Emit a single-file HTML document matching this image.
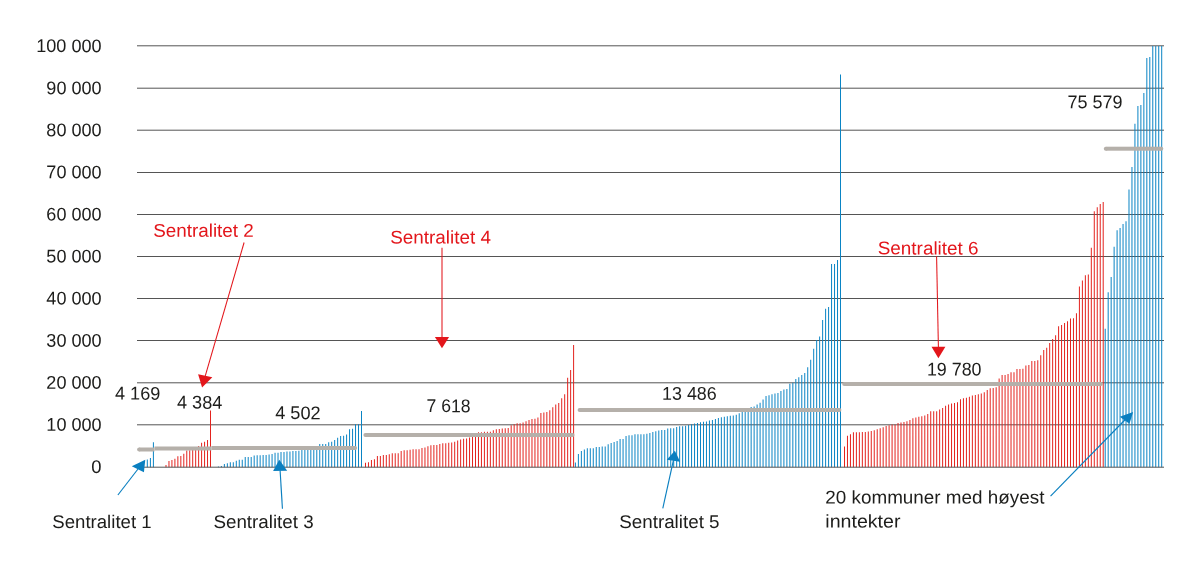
<!DOCTYPE html>
<html><head><meta charset="utf-8"><style>
html,body{margin:0;padding:0;background:#fff;width:1200px;height:569px;overflow:hidden}
svg{display:block;will-change:transform}
text{font-family:"Liberation Sans", sans-serif;}
</style></head><body>
<svg width="1200" height="569" viewBox="0 0 1200 569">
<rect width="1200" height="569" fill="#fff"/>
<path d="M137 45.80H1164M137 88.20H1164M137 130.20H1164M137 172.50H1164M137 214.50H1164M137 256.50H1164M137 298.50H1164M137 340.50H1164M137 382.80H1164M137 424.80H1164" stroke="#555" stroke-width="1" fill="none"/>
<path d="M146.80 459.50h1.0v7.70h-1.0zM149.90 458.00h1.0v9.20h-1.0zM152.90 442.20h1.0v25.00h-1.0zM217.90 466.40h1.0v0.80h-1.0zM220.88 466.10h1.0v1.10h-1.0zM223.86 464.00h1.0v3.20h-1.0zM226.84 463.20h1.0v4.00h-1.0zM229.83 462.20h1.0v5.00h-1.0zM232.81 462.20h1.0v5.00h-1.0zM235.79 460.80h1.0v6.40h-1.0zM238.77 459.70h1.0v7.50h-1.0zM241.75 459.70h1.0v7.50h-1.0zM244.73 456.90h1.0v10.30h-1.0zM247.71 456.90h1.0v10.30h-1.0zM250.69 456.90h1.0v10.30h-1.0zM253.68 455.50h1.0v11.70h-1.0zM256.66 455.30h1.0v11.90h-1.0zM259.64 455.30h1.0v11.90h-1.0zM262.62 455.10h1.0v12.10h-1.0zM265.60 455.10h1.0v12.10h-1.0zM268.58 454.50h1.0v12.70h-1.0zM271.56 454.00h1.0v13.20h-1.0zM274.54 452.70h1.0v14.50h-1.0zM277.52 452.70h1.0v14.50h-1.0zM280.51 452.10h1.0v15.10h-1.0zM283.49 451.90h1.0v15.30h-1.0zM286.47 451.40h1.0v15.80h-1.0zM289.45 451.40h1.0v15.80h-1.0zM292.43 451.10h1.0v16.10h-1.0zM295.41 451.10h1.0v16.10h-1.0zM298.39 450.70h1.0v16.50h-1.0zM301.38 450.00h1.0v17.20h-1.0zM304.36 449.50h1.0v17.70h-1.0zM307.34 449.00h1.0v18.20h-1.0zM310.32 448.50h1.0v18.70h-1.0zM313.30 447.50h1.0v19.70h-1.0zM316.28 447.00h1.0v20.20h-1.0zM319.26 444.10h1.0v23.10h-1.0zM322.24 444.10h1.0v23.10h-1.0zM325.23 443.90h1.0v23.30h-1.0zM328.21 442.20h1.0v25.00h-1.0zM331.19 441.80h1.0v25.40h-1.0zM334.17 440.00h1.0v27.20h-1.0zM337.15 437.80h1.0v29.40h-1.0zM340.13 435.90h1.0v31.30h-1.0zM343.11 435.70h1.0v31.50h-1.0zM346.09 434.50h1.0v32.70h-1.0zM349.07 429.30h1.0v37.90h-1.0zM352.06 428.70h1.0v38.50h-1.0zM355.04 424.20h1.0v43.00h-1.0zM358.02 424.20h1.0v43.00h-1.0zM361.00 411.10h1.0v56.10h-1.0zM574.90 462.50h1.0v4.70h-1.0zM577.88 453.90h1.0v13.30h-1.0zM580.86 451.10h1.0v16.10h-1.0zM583.84 449.50h1.0v17.70h-1.0zM586.81 448.20h1.0v19.00h-1.0zM589.79 448.20h1.0v19.00h-1.0zM592.77 448.20h1.0v19.00h-1.0zM595.75 447.10h1.0v20.10h-1.0zM598.73 447.10h1.0v20.10h-1.0zM601.71 446.50h1.0v20.70h-1.0zM604.69 446.50h1.0v20.70h-1.0zM607.67 444.30h1.0v22.90h-1.0zM610.64 443.10h1.0v24.10h-1.0zM613.62 442.10h1.0v25.10h-1.0zM616.60 441.00h1.0v26.20h-1.0zM619.58 439.00h1.0v28.20h-1.0zM622.56 439.00h1.0v28.20h-1.0zM625.54 435.90h1.0v31.30h-1.0zM628.52 435.30h1.0v31.90h-1.0zM631.49 435.30h1.0v31.90h-1.0zM634.47 434.20h1.0v33.00h-1.0zM637.45 434.20h1.0v33.00h-1.0zM640.43 434.20h1.0v33.00h-1.0zM643.41 434.20h1.0v33.00h-1.0zM646.39 433.80h1.0v33.40h-1.0zM649.37 433.00h1.0v34.20h-1.0zM652.34 432.10h1.0v35.10h-1.0zM655.32 431.20h1.0v36.00h-1.0zM658.30 430.40h1.0v36.80h-1.0zM661.28 430.00h1.0v37.20h-1.0zM664.26 430.00h1.0v37.20h-1.0zM667.24 428.40h1.0v38.80h-1.0zM670.22 428.20h1.0v39.00h-1.0zM673.20 428.20h1.0v39.00h-1.0zM676.17 426.90h1.0v40.30h-1.0zM679.15 426.30h1.0v40.90h-1.0zM682.13 426.30h1.0v40.90h-1.0zM685.11 425.70h1.0v41.50h-1.0zM688.09 425.10h1.0v42.10h-1.0zM691.07 424.20h1.0v43.00h-1.0zM694.05 423.50h1.0v43.70h-1.0zM697.02 423.00h1.0v44.20h-1.0zM700.00 422.20h1.0v45.00h-1.0zM702.98 421.80h1.0v45.40h-1.0zM705.96 421.40h1.0v45.80h-1.0zM708.94 420.50h1.0v46.70h-1.0zM711.92 419.90h1.0v47.30h-1.0zM714.90 418.90h1.0v48.30h-1.0zM717.88 418.10h1.0v49.10h-1.0zM720.85 417.30h1.0v49.90h-1.0zM723.83 416.80h1.0v50.40h-1.0zM726.81 416.20h1.0v51.00h-1.0zM729.79 415.80h1.0v51.40h-1.0zM732.77 415.40h1.0v51.80h-1.0zM735.75 414.80h1.0v52.40h-1.0zM738.73 413.20h1.0v54.00h-1.0zM741.70 411.50h1.0v55.70h-1.0zM744.68 411.00h1.0v56.20h-1.0zM747.66 410.50h1.0v56.70h-1.0zM750.64 407.10h1.0v60.10h-1.0zM753.62 406.50h1.0v60.70h-1.0zM756.60 404.60h1.0v62.60h-1.0zM759.58 402.80h1.0v64.40h-1.0zM762.56 399.40h1.0v67.80h-1.0zM765.53 395.90h1.0v71.30h-1.0zM768.51 395.30h1.0v71.90h-1.0zM771.49 394.20h1.0v73.00h-1.0zM774.47 393.50h1.0v73.70h-1.0zM777.45 393.00h1.0v74.20h-1.0zM780.43 391.00h1.0v76.20h-1.0zM783.41 389.50h1.0v77.70h-1.0zM786.38 388.90h1.0v78.30h-1.0zM789.36 383.80h1.0v83.40h-1.0zM792.34 382.80h1.0v84.40h-1.0zM795.32 379.10h1.0v88.10h-1.0zM798.30 377.20h1.0v90.00h-1.0zM801.28 374.90h1.0v92.30h-1.0zM804.26 373.10h1.0v94.10h-1.0zM807.23 367.30h1.0v99.90h-1.0zM810.21 359.80h1.0v107.40h-1.0zM813.19 348.80h1.0v118.40h-1.0zM816.17 339.90h1.0v127.30h-1.0zM819.15 336.40h1.0v130.80h-1.0zM822.13 320.10h1.0v147.10h-1.0zM825.11 308.70h1.0v158.50h-1.0zM828.09 307.10h1.0v160.10h-1.0zM831.06 264.10h1.0v203.10h-1.0zM834.04 264.10h1.0v203.10h-1.0zM837.02 260.10h1.0v207.10h-1.0zM840.00 74.40h1.0v392.80h-1.0zM1104.70 328.70h1.0v138.50h-1.0zM1107.67 292.30h1.0v174.90h-1.0zM1110.65 277.00h1.0v190.20h-1.0zM1113.62 246.80h1.0v220.40h-1.0zM1116.59 230.30h1.0v236.90h-1.0zM1119.57 228.00h1.0v239.20h-1.0zM1122.54 224.00h1.0v243.20h-1.0zM1125.52 221.20h1.0v246.00h-1.0zM1128.49 189.60h1.0v277.60h-1.0zM1131.46 167.00h1.0v300.20h-1.0zM1134.44 123.80h1.0v343.40h-1.0zM1137.41 106.10h1.0v361.10h-1.0zM1140.38 104.90h1.0v362.30h-1.0zM1143.36 93.00h1.0v374.20h-1.0zM1146.33 57.90h1.0v409.30h-1.0zM1149.31 57.10h1.0v410.10h-1.0zM1152.28 45.90h1.0v421.30h-1.0zM1155.25 45.90h1.0v421.30h-1.0zM1158.23 45.90h1.0v421.30h-1.0zM1161.20 45.90h1.0v421.30h-1.0z" fill="#0a84c4"/>
<path d="M165.50 464.90h1.0v2.30h-1.0zM168.47 460.90h1.0v6.30h-1.0zM171.43 460.00h1.0v7.20h-1.0zM174.40 458.80h1.0v8.40h-1.0zM177.37 456.30h1.0v10.90h-1.0zM180.33 456.00h1.0v11.20h-1.0zM183.30 453.75h1.0v13.45h-1.0zM186.27 450.50h1.0v16.70h-1.0zM189.23 450.20h1.0v17.00h-1.0zM192.20 449.80h1.0v17.40h-1.0zM195.17 449.50h1.0v17.70h-1.0zM198.13 446.10h1.0v21.10h-1.0zM201.10 442.80h1.0v24.40h-1.0zM204.07 441.80h1.0v25.40h-1.0zM207.03 440.00h1.0v27.20h-1.0zM210.00 410.50h1.0v56.70h-1.0zM365.00 462.80h1.0v4.40h-1.0zM367.97 462.20h1.0v5.00h-1.0zM370.95 459.90h1.0v7.30h-1.0zM373.92 459.30h1.0v7.90h-1.0zM376.89 456.00h1.0v11.20h-1.0zM379.86 456.00h1.0v11.20h-1.0zM382.84 455.10h1.0v12.10h-1.0zM385.81 455.10h1.0v12.10h-1.0zM388.78 454.20h1.0v13.00h-1.0zM391.76 453.20h1.0v14.00h-1.0zM394.73 453.20h1.0v14.00h-1.0zM397.70 453.20h1.0v14.00h-1.0zM400.67 451.10h1.0v16.10h-1.0zM403.65 450.20h1.0v17.00h-1.0zM406.62 450.20h1.0v17.00h-1.0zM409.59 449.80h1.0v17.40h-1.0zM412.57 449.20h1.0v18.00h-1.0zM415.54 449.20h1.0v18.00h-1.0zM418.51 449.20h1.0v18.00h-1.0zM421.48 448.00h1.0v19.20h-1.0zM424.46 447.40h1.0v19.80h-1.0zM427.43 446.20h1.0v21.00h-1.0zM430.40 445.30h1.0v21.90h-1.0zM433.38 444.90h1.0v22.30h-1.0zM436.35 444.90h1.0v22.30h-1.0zM439.32 444.10h1.0v23.10h-1.0zM442.29 443.30h1.0v23.90h-1.0zM445.27 443.30h1.0v23.90h-1.0zM448.24 442.80h1.0v24.40h-1.0zM451.21 442.50h1.0v24.70h-1.0zM454.19 441.80h1.0v25.40h-1.0zM457.16 440.60h1.0v26.60h-1.0zM460.13 439.40h1.0v27.80h-1.0zM463.10 438.80h1.0v28.40h-1.0zM466.08 438.40h1.0v28.80h-1.0zM469.05 437.50h1.0v29.70h-1.0zM472.02 436.00h1.0v31.20h-1.0zM475.00 435.00h1.0v32.20h-1.0zM477.97 432.20h1.0v35.00h-1.0zM480.94 432.20h1.0v35.00h-1.0zM483.91 431.80h1.0v35.40h-1.0zM486.89 431.80h1.0v35.40h-1.0zM489.86 431.80h1.0v35.40h-1.0zM492.83 430.20h1.0v37.00h-1.0zM495.81 429.30h1.0v37.90h-1.0zM498.78 428.90h1.0v38.30h-1.0zM501.75 428.60h1.0v38.60h-1.0zM504.72 428.30h1.0v38.90h-1.0zM507.70 428.10h1.0v39.10h-1.0zM510.67 425.30h1.0v41.90h-1.0zM513.64 424.30h1.0v42.90h-1.0zM516.62 423.30h1.0v43.90h-1.0zM519.59 423.30h1.0v43.90h-1.0zM522.56 422.50h1.0v44.70h-1.0zM525.53 421.20h1.0v46.00h-1.0zM528.51 420.00h1.0v47.20h-1.0zM531.48 419.10h1.0v48.10h-1.0zM534.45 418.80h1.0v48.40h-1.0zM537.43 417.50h1.0v49.70h-1.0zM540.40 413.00h1.0v54.20h-1.0zM543.37 412.60h1.0v54.60h-1.0zM546.34 412.00h1.0v55.20h-1.0zM549.32 410.20h1.0v57.00h-1.0zM552.29 407.30h1.0v59.90h-1.0zM555.26 404.40h1.0v62.80h-1.0zM558.24 403.10h1.0v64.10h-1.0zM561.21 398.20h1.0v69.00h-1.0zM564.18 394.20h1.0v73.00h-1.0zM567.15 377.70h1.0v89.50h-1.0zM570.13 370.00h1.0v97.20h-1.0zM573.10 345.00h1.0v122.20h-1.0zM844.00 446.50h1.0v20.70h-1.0zM846.97 435.70h1.0v31.50h-1.0zM849.95 434.20h1.0v33.00h-1.0zM852.92 432.20h1.0v35.00h-1.0zM855.89 432.20h1.0v35.00h-1.0zM858.87 432.20h1.0v35.00h-1.0zM861.84 432.00h1.0v35.20h-1.0zM864.81 432.00h1.0v35.20h-1.0zM867.79 431.60h1.0v35.60h-1.0zM870.76 431.00h1.0v36.20h-1.0zM873.74 430.20h1.0v37.00h-1.0zM876.71 429.20h1.0v38.00h-1.0zM879.68 428.30h1.0v38.90h-1.0zM882.66 427.30h1.0v39.90h-1.0zM885.63 426.10h1.0v41.10h-1.0zM888.60 425.20h1.0v42.00h-1.0zM891.58 424.60h1.0v42.60h-1.0zM894.55 424.40h1.0v42.80h-1.0zM897.52 423.10h1.0v44.10h-1.0zM900.50 422.40h1.0v44.80h-1.0zM903.47 421.90h1.0v45.30h-1.0zM906.44 421.20h1.0v46.00h-1.0zM909.42 419.90h1.0v47.30h-1.0zM912.39 418.20h1.0v49.00h-1.0zM915.37 417.50h1.0v49.70h-1.0zM918.34 416.80h1.0v50.40h-1.0zM921.31 416.20h1.0v51.00h-1.0zM924.29 415.50h1.0v51.70h-1.0zM927.26 414.10h1.0v53.10h-1.0zM930.23 411.20h1.0v56.00h-1.0zM933.21 411.20h1.0v56.00h-1.0zM936.18 411.20h1.0v56.00h-1.0zM939.15 409.40h1.0v57.80h-1.0zM942.13 407.90h1.0v59.30h-1.0zM945.10 405.70h1.0v61.50h-1.0zM948.07 404.50h1.0v62.70h-1.0zM951.05 403.50h1.0v63.70h-1.0zM954.02 403.00h1.0v64.20h-1.0zM957.00 402.20h1.0v65.00h-1.0zM959.97 399.20h1.0v68.00h-1.0zM962.94 398.30h1.0v68.90h-1.0zM965.92 397.70h1.0v69.50h-1.0zM968.89 396.80h1.0v70.40h-1.0zM971.86 395.50h1.0v71.70h-1.0zM974.84 395.00h1.0v72.20h-1.0zM977.81 394.20h1.0v73.00h-1.0zM980.78 393.40h1.0v73.80h-1.0zM983.76 392.20h1.0v75.00h-1.0zM986.73 389.90h1.0v77.30h-1.0zM989.70 388.20h1.0v79.00h-1.0zM992.68 387.90h1.0v79.30h-1.0zM995.65 387.20h1.0v80.00h-1.0zM998.63 378.40h1.0v88.80h-1.0zM1001.60 375.10h1.0v92.10h-1.0zM1004.57 375.10h1.0v92.10h-1.0zM1007.55 374.00h1.0v93.20h-1.0zM1010.52 372.30h1.0v94.90h-1.0zM1013.49 372.30h1.0v94.90h-1.0zM1016.47 369.00h1.0v98.20h-1.0zM1019.44 369.00h1.0v98.20h-1.0zM1022.41 368.80h1.0v98.40h-1.0zM1025.39 365.50h1.0v101.70h-1.0zM1028.36 365.10h1.0v102.10h-1.0zM1031.33 361.10h1.0v106.10h-1.0zM1034.31 361.10h1.0v106.10h-1.0zM1037.28 360.20h1.0v107.00h-1.0zM1040.26 355.20h1.0v112.00h-1.0zM1043.23 350.10h1.0v117.10h-1.0zM1046.20 347.70h1.0v119.50h-1.0zM1049.18 343.10h1.0v124.10h-1.0zM1052.15 339.10h1.0v128.10h-1.0zM1055.12 335.20h1.0v132.00h-1.0zM1058.10 326.30h1.0v140.90h-1.0zM1061.07 324.90h1.0v142.30h-1.0zM1064.04 322.90h1.0v144.30h-1.0zM1067.02 321.30h1.0v145.90h-1.0zM1069.99 318.50h1.0v148.70h-1.0zM1072.96 318.20h1.0v149.00h-1.0zM1075.94 313.30h1.0v153.90h-1.0zM1078.91 286.60h1.0v180.60h-1.0zM1081.89 280.50h1.0v186.70h-1.0zM1084.86 275.30h1.0v191.90h-1.0zM1087.83 274.60h1.0v192.60h-1.0zM1090.81 247.80h1.0v219.40h-1.0zM1093.78 211.20h1.0v256.00h-1.0zM1096.75 207.30h1.0v259.90h-1.0zM1099.73 204.10h1.0v263.10h-1.0zM1102.70 202.10h1.0v265.10h-1.0z" fill="#e3231e"/>
<path d="M137 467.20H1164" stroke="#555" stroke-width="1" fill="none"/>
<rect x="139.1" y="447.5" width="15.40" height="4" fill="#b5b0aa"/><circle cx="139.1" cy="449.5" r="2" fill="#b5b0aa"/><rect x="154.5" y="446.5" width="57.00" height="4" fill="#b5b0aa"/><rect x="211.5" y="446.0" width="143.60" height="4" fill="#b5b0aa"/><circle cx="355.1" cy="448.0" r="2" fill="#b5b0aa"/><rect x="365.4" y="433.0" width="207.10" height="4" fill="#b5b0aa"/><circle cx="365.4" cy="435.0" r="2" fill="#b5b0aa"/><circle cx="572.5" cy="435.0" r="2" fill="#b5b0aa"/><rect x="579.6" y="408.0" width="259.80" height="4" fill="#b5b0aa"/><circle cx="579.6" cy="410.0" r="2" fill="#b5b0aa"/><circle cx="839.4" cy="410.0" r="2" fill="#b5b0aa"/><rect x="844.2" y="382.0" width="256.80" height="4" fill="#b5b0aa"/><circle cx="844.2" cy="384.0" r="2" fill="#b5b0aa"/><circle cx="1101.0" cy="384.0" r="2" fill="#b5b0aa"/><rect x="1105.8" y="146.7" width="55.50" height="4" fill="#b5b0aa"/><circle cx="1105.8" cy="148.7" r="2" fill="#b5b0aa"/><circle cx="1161.3" cy="148.7" r="2" fill="#b5b0aa"/>
<path d="M244.09 242.52L205.20 376.20" stroke="#e3161b" stroke-width="1.05" fill="none"/><path d="M198.11 374.30L212.33 377.17L202.08 387.38z" fill="#e3161b"/>
<path d="M442.00 247.70L442.00 337.60" stroke="#e3161b" stroke-width="1.05" fill="none"/><path d="M434.90 336.99L449.10 336.99L442.00 348.15z" fill="#e3161b"/>
<path d="M936.59 256.20L938.40 347.30" stroke="#e3161b" stroke-width="1.05" fill="none"/><path d="M931.51 346.68L945.39 346.68L938.40 358.15z" fill="#e3161b"/>
<path d="M117.89 495.00L138.00 469.00" stroke="#0a7fc0" stroke-width="1.15" fill="none"/><path d="M131.80 466.21L145.28 459.65L143.93 472.19z" fill="#0a7fc0"/>
<path d="M282.43 508.80L280.10 470.40" stroke="#0a7fc0" stroke-width="1.15" fill="none"/><path d="M273.11 470.92L287.20 470.70L279.26 459.75z" fill="#0a7fc0"/>
<path d="M662.79 508.49L673.40 460.40" stroke="#0a7fc0" stroke-width="1.15" fill="none"/><path d="M666.77 459.84L680.17 461.65L674.86 450.75z" fill="#0a7fc0"/>
<path d="M1050.55 496.16L1124.80 420.00" stroke="#0a7fc0" stroke-width="1.15" fill="none"/><path d="M1119.80 416.76L1133.12 411.89L1129.44 423.63z" fill="#0a7fc0"/>
<text x="101.5" y="52.13" fill="#1d1d1b" font-size="18.4" text-anchor="end" textLength="65.25" lengthAdjust="spacingAndGlyphs" transform="rotate(0.03 68.9 46.1)">100 000</text>
<text x="101.5" y="94.21" fill="#1d1d1b" font-size="18.4" text-anchor="end" textLength="55.13" lengthAdjust="spacingAndGlyphs" transform="rotate(0.03 73.9 88.2)">90 000</text>
<text x="101.5" y="136.3" fill="#1d1d1b" font-size="18.4" text-anchor="end" textLength="55.13" lengthAdjust="spacingAndGlyphs" transform="rotate(0.03 73.9 130.3)">80 000</text>
<text x="101.5" y="178.39" fill="#1d1d1b" font-size="18.4" text-anchor="end" textLength="55.13" lengthAdjust="spacingAndGlyphs" transform="rotate(0.03 73.9 172.4)">70 000</text>
<text x="101.5" y="220.47" fill="#1d1d1b" font-size="18.4" text-anchor="end" textLength="55.13" lengthAdjust="spacingAndGlyphs" transform="rotate(0.03 73.9 214.5)">60 000</text>
<text x="101.5" y="262.56" fill="#1d1d1b" font-size="18.4" text-anchor="end" textLength="55.13" lengthAdjust="spacingAndGlyphs" transform="rotate(0.03 73.9 256.6)">50 000</text>
<text x="101.5" y="304.64" fill="#1d1d1b" font-size="18.4" text-anchor="end" textLength="55.13" lengthAdjust="spacingAndGlyphs" transform="rotate(0.03 73.9 298.6)">40 000</text>
<text x="101.5" y="346.73" fill="#1d1d1b" font-size="18.4" text-anchor="end" textLength="55.13" lengthAdjust="spacingAndGlyphs" transform="rotate(0.03 73.9 340.7)">30 000</text>
<text x="101.5" y="388.81" fill="#1d1d1b" font-size="18.4" text-anchor="end" textLength="55.13" lengthAdjust="spacingAndGlyphs" transform="rotate(0.03 73.9 382.8)">20 000</text>
<text x="101.5" y="430.89" fill="#1d1d1b" font-size="18.4" text-anchor="end" textLength="55.13" lengthAdjust="spacingAndGlyphs" transform="rotate(0.03 73.9 424.9)">10 000</text>
<text x="101.5" y="472.98" fill="#1d1d1b" font-size="18.4" text-anchor="end" transform="rotate(0.03 76.5 467.0)">0</text>
<text x="153.2" y="236.7" fill="#e3161b" font-size="18.4" text-anchor="start" textLength="100.6" lengthAdjust="spacingAndGlyphs" transform="rotate(0.03 203.5 230.7)">Sentralitet 2</text>
<text x="390.2" y="243.5" fill="#e3161b" font-size="18.4" text-anchor="start" textLength="100.75" lengthAdjust="spacingAndGlyphs" transform="rotate(0.03 440.6 237.5)">Sentralitet 4</text>
<text x="877.7" y="254.4" fill="#e3161b" font-size="18.4" text-anchor="start" textLength="100.95" lengthAdjust="spacingAndGlyphs" transform="rotate(0.03 928.2 248.4)">Sentralitet 6</text>
<text x="115.0" y="399.63" fill="#1d1d1b" font-size="18.4" text-anchor="start" textLength="45.33" lengthAdjust="spacingAndGlyphs" transform="rotate(0.03 137.7 393.6)">4 169</text>
<text x="177.0" y="408.63" fill="#1d1d1b" font-size="18.4" text-anchor="start" textLength="45.33" lengthAdjust="spacingAndGlyphs" transform="rotate(0.03 199.7 402.6)">4 384</text>
<text x="275.2" y="419.13" fill="#1d1d1b" font-size="18.4" text-anchor="start" textLength="45.4" lengthAdjust="spacingAndGlyphs" transform="rotate(0.03 297.9 413.1)">4 502</text>
<text x="426.5" y="412.13" fill="#1d1d1b" font-size="18.4" text-anchor="start" textLength="44.03" lengthAdjust="spacingAndGlyphs" transform="rotate(0.03 448.5 406.1)">7 618</text>
<text x="662.05" y="399.83" fill="#1d1d1b" font-size="18.4" text-anchor="start" textLength="54.7" lengthAdjust="spacingAndGlyphs" transform="rotate(0.03 689.4 393.8)">13 486</text>
<text x="926.9" y="375.43" fill="#1d1d1b" font-size="18.4" text-anchor="start" textLength="54.6" lengthAdjust="spacingAndGlyphs" transform="rotate(0.03 954.2 369.4)">19 780</text>
<text x="1067.5" y="108.23" fill="#1d1d1b" font-size="18.4" text-anchor="start" textLength="55.0" lengthAdjust="spacingAndGlyphs" transform="rotate(0.03 1095.0 102.2)">75 579</text>
<text x="52.3" y="528.0" fill="#1d1d1b" font-size="18.4" text-anchor="start" textLength="99.3" lengthAdjust="spacingAndGlyphs" transform="rotate(0.03 101.9 522.0)">Sentralitet 1</text>
<text x="213.4" y="528.0" fill="#1d1d1b" font-size="18.4" text-anchor="start" textLength="100.3" lengthAdjust="spacingAndGlyphs" transform="rotate(0.03 263.6 522.0)">Sentralitet 3</text>
<text x="619.2" y="528.0" fill="#1d1d1b" font-size="18.4" text-anchor="start" textLength="100.4" lengthAdjust="spacingAndGlyphs" transform="rotate(0.03 669.4 522.0)">Sentralitet 5</text>
<text x="825.3" y="503.5" fill="#1d1d1b" font-size="18.4" text-anchor="start" textLength="219.1" lengthAdjust="spacingAndGlyphs" transform="rotate(0.03 934.8 497.5)">20 kommuner med høyest</text>
<text x="825.3" y="527.5" fill="#1d1d1b" font-size="18.4" text-anchor="start" textLength="75.2" lengthAdjust="spacingAndGlyphs" transform="rotate(0.03 862.9 521.5)">inntekter</text>
</svg>
</body></html>
